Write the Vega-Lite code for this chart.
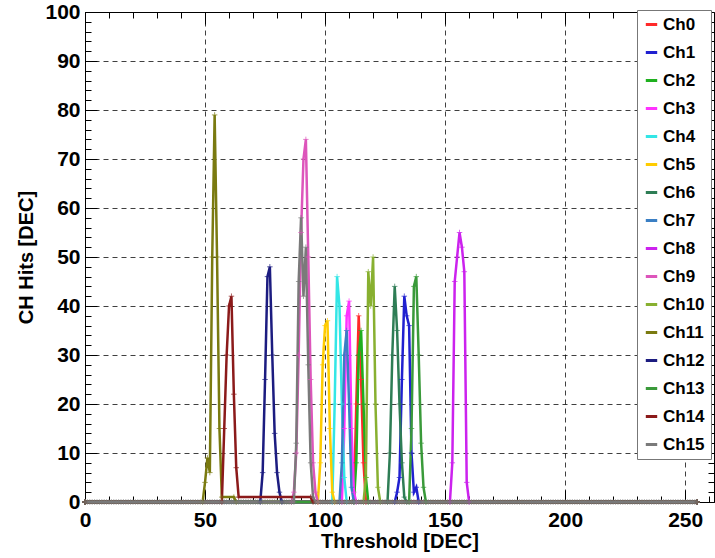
{
"$schema": "https://vega.github.io/schema/vega-lite/v6.json",
"width": 629, "height": 490,
"autosize": {"type": "none"},
"padding": {"left": 85, "top": 12, "right": 1, "bottom": 56},
"background": "white",
"config": {
  "view": {"stroke": "#000", "strokeWidth": 1},
  "font": "Liberation Sans",
  "axis": {"labelFont": "Liberation Sans", "labelFontWeight": "bold", "labelFontSize": 21, "labelColor": "#000",
           "titleFont": "Liberation Sans", "titleFontWeight": "bold", "titleFontSize": 20, "titleColor": "#000",
           "domainColor": "#000", "tickColor": "#000", "gridColor": "#000", "gridDash": [5, 4], "gridOpacity": 0.75}
},
"datasets": {"d": [
{"c":"Ch0","t":0,"h":0},{"c":"Ch0","t":112,"h":0},{"c":"Ch0","t":113,"h":20},{"c":"Ch0","t":114,"h":38},{"c":"Ch0","t":115,"h":25},{"c":"Ch0","t":116,"h":8},{"c":"Ch0","t":117,"h":0},{"c":"Ch0","t":255,"h":0},
{"c":"Ch1","t":0,"h":0},{"c":"Ch1","t":129,"h":0},{"c":"Ch1","t":130,"h":2},{"c":"Ch1","t":131,"h":5},{"c":"Ch1","t":132,"h":25},{"c":"Ch1","t":133,"h":42},{"c":"Ch1","t":134,"h":38},{"c":"Ch1","t":135,"h":36},{"c":"Ch1","t":136,"h":10},{"c":"Ch1","t":137,"h":2},{"c":"Ch1","t":138,"h":3},{"c":"Ch1","t":139,"h":0},{"c":"Ch1","t":255,"h":0},
{"c":"Ch2","t":0,"h":0},{"c":"Ch2","t":112,"h":0},{"c":"Ch2","t":113,"h":8},{"c":"Ch2","t":114,"h":30},{"c":"Ch2","t":115,"h":35},{"c":"Ch2","t":116,"h":20},{"c":"Ch2","t":117,"h":5},{"c":"Ch2","t":118,"h":0},{"c":"Ch2","t":255,"h":0},
{"c":"Ch3","t":0,"h":0},{"c":"Ch3","t":107,"h":0},{"c":"Ch3","t":108,"h":15},{"c":"Ch3","t":109,"h":38},{"c":"Ch3","t":110,"h":41},{"c":"Ch3","t":111,"h":15},{"c":"Ch3","t":112,"h":2},{"c":"Ch3","t":113,"h":0},{"c":"Ch3","t":255,"h":0},
{"c":"Ch4","t":0,"h":0},{"c":"Ch4","t":103,"h":0},{"c":"Ch4","t":104,"h":20},{"c":"Ch4","t":105,"h":46},{"c":"Ch4","t":106,"h":40},{"c":"Ch4","t":107,"h":20},{"c":"Ch4","t":108,"h":5},{"c":"Ch4","t":109,"h":0},{"c":"Ch4","t":255,"h":0},
{"c":"Ch5","t":0,"h":0},{"c":"Ch5","t":97,"h":0},{"c":"Ch5","t":98,"h":8},{"c":"Ch5","t":99,"h":28},{"c":"Ch5","t":100,"h":36},{"c":"Ch5","t":101,"h":37},{"c":"Ch5","t":102,"h":15},{"c":"Ch5","t":103,"h":2},{"c":"Ch5","t":104,"h":0},{"c":"Ch5","t":255,"h":0},
{"c":"Ch6","t":0,"h":0},{"c":"Ch6","t":126,"h":0},{"c":"Ch6","t":127,"h":10},{"c":"Ch6","t":128,"h":30},{"c":"Ch6","t":129,"h":44},{"c":"Ch6","t":130,"h":35},{"c":"Ch6","t":131,"h":20},{"c":"Ch6","t":132,"h":8},{"c":"Ch6","t":133,"h":1},{"c":"Ch6","t":134,"h":0},{"c":"Ch6","t":255,"h":0},
{"c":"Ch7","t":0,"h":0},{"c":"Ch7","t":106,"h":0},{"c":"Ch7","t":107,"h":8},{"c":"Ch7","t":108,"h":30},{"c":"Ch7","t":109,"h":35},{"c":"Ch7","t":110,"h":20},{"c":"Ch7","t":111,"h":3},{"c":"Ch7","t":112,"h":0},{"c":"Ch7","t":255,"h":0},
{"c":"Ch8","t":0,"h":0},{"c":"Ch8","t":152,"h":0},{"c":"Ch8","t":153,"h":8},{"c":"Ch8","t":154,"h":45},{"c":"Ch8","t":155,"h":50},{"c":"Ch8","t":156,"h":55},{"c":"Ch8","t":157,"h":52},{"c":"Ch8","t":158,"h":47},{"c":"Ch8","t":159,"h":4},{"c":"Ch8","t":160,"h":0},{"c":"Ch8","t":255,"h":0},
{"c":"Ch9","t":0,"h":0},{"c":"Ch9","t":86,"h":0},{"c":"Ch9","t":87,"h":2},{"c":"Ch9","t":88,"h":10},{"c":"Ch9","t":89,"h":30},{"c":"Ch9","t":90,"h":55},{"c":"Ch9","t":91,"h":70},{"c":"Ch9","t":92,"h":74},{"c":"Ch9","t":93,"h":50},{"c":"Ch9","t":94,"h":25},{"c":"Ch9","t":95,"h":8},{"c":"Ch9","t":96,"h":2},{"c":"Ch9","t":97,"h":0},{"c":"Ch9","t":255,"h":0},
{"c":"Ch10","t":0,"h":0},{"c":"Ch10","t":116,"h":0},{"c":"Ch10","t":117,"h":5},{"c":"Ch10","t":118,"h":47},{"c":"Ch10","t":119,"h":40},{"c":"Ch10","t":120,"h":50},{"c":"Ch10","t":121,"h":20},{"c":"Ch10","t":122,"h":3},{"c":"Ch10","t":123,"h":0},{"c":"Ch10","t":255,"h":0},
{"c":"Ch11","t":0,"h":0},{"c":"Ch11","t":49,"h":0},{"c":"Ch11","t":50,"h":4},{"c":"Ch11","t":51,"h":9},{"c":"Ch11","t":52,"h":6},{"c":"Ch11","t":53,"h":50},{"c":"Ch11","t":54,"h":79},{"c":"Ch11","t":55,"h":50},{"c":"Ch11","t":56,"h":15},{"c":"Ch11","t":57,"h":1},{"c":"Ch11","t":62,"h":1},{"c":"Ch11","t":63,"h":0},{"c":"Ch11","t":255,"h":0},
{"c":"Ch12","t":0,"h":0},{"c":"Ch12","t":73,"h":0},{"c":"Ch12","t":74,"h":6},{"c":"Ch12","t":75,"h":25},{"c":"Ch12","t":76,"h":46},{"c":"Ch12","t":77,"h":48},{"c":"Ch12","t":78,"h":30},{"c":"Ch12","t":79,"h":14},{"c":"Ch12","t":80,"h":6},{"c":"Ch12","t":81,"h":2},{"c":"Ch12","t":82,"h":0},{"c":"Ch12","t":255,"h":0},
{"c":"Ch13","t":0,"h":0},{"c":"Ch13","t":135,"h":0},{"c":"Ch13","t":136,"h":15},{"c":"Ch13","t":137,"h":44},{"c":"Ch13","t":138,"h":46},{"c":"Ch13","t":139,"h":30},{"c":"Ch13","t":140,"h":12},{"c":"Ch13","t":141,"h":3},{"c":"Ch13","t":142,"h":0},{"c":"Ch13","t":255,"h":0},
{"c":"Ch14","t":0,"h":0},{"c":"Ch14","t":57,"h":0},{"c":"Ch14","t":58,"h":15},{"c":"Ch14","t":59,"h":30},{"c":"Ch14","t":60,"h":40},{"c":"Ch14","t":61,"h":42},{"c":"Ch14","t":62,"h":22},{"c":"Ch14","t":63,"h":7},{"c":"Ch14","t":64,"h":1},{"c":"Ch14","t":94,"h":1},{"c":"Ch14","t":95,"h":0},{"c":"Ch14","t":255,"h":0},
{"c":"Ch15","t":0,"h":0},{"c":"Ch15","t":1,"h":0},{"c":"Ch15","t":2,"h":0},{"c":"Ch15","t":3,"h":0},{"c":"Ch15","t":4,"h":0},{"c":"Ch15","t":5,"h":0},{"c":"Ch15","t":6,"h":0},{"c":"Ch15","t":7,"h":0},{"c":"Ch15","t":8,"h":0},{"c":"Ch15","t":9,"h":0},
{"c":"Ch15","t":10,"h":0},{"c":"Ch15","t":11,"h":0},{"c":"Ch15","t":12,"h":0},{"c":"Ch15","t":13,"h":0},{"c":"Ch15","t":14,"h":0},{"c":"Ch15","t":15,"h":0},{"c":"Ch15","t":16,"h":0},{"c":"Ch15","t":17,"h":0},{"c":"Ch15","t":18,"h":0},{"c":"Ch15","t":19,"h":0},
{"c":"Ch15","t":20,"h":0},{"c":"Ch15","t":21,"h":0},{"c":"Ch15","t":22,"h":0},{"c":"Ch15","t":23,"h":0},{"c":"Ch15","t":24,"h":0},{"c":"Ch15","t":25,"h":0},{"c":"Ch15","t":26,"h":0},{"c":"Ch15","t":27,"h":0},{"c":"Ch15","t":28,"h":0},{"c":"Ch15","t":29,"h":0},
{"c":"Ch15","t":30,"h":0},{"c":"Ch15","t":31,"h":0},{"c":"Ch15","t":32,"h":0},{"c":"Ch15","t":33,"h":0},{"c":"Ch15","t":34,"h":0},{"c":"Ch15","t":35,"h":0},{"c":"Ch15","t":36,"h":0},{"c":"Ch15","t":37,"h":0},{"c":"Ch15","t":38,"h":0},{"c":"Ch15","t":39,"h":0},
{"c":"Ch15","t":40,"h":0},{"c":"Ch15","t":41,"h":0},{"c":"Ch15","t":42,"h":0},{"c":"Ch15","t":43,"h":0},{"c":"Ch15","t":44,"h":0},{"c":"Ch15","t":45,"h":0},{"c":"Ch15","t":46,"h":0},{"c":"Ch15","t":47,"h":0},{"c":"Ch15","t":48,"h":0},{"c":"Ch15","t":49,"h":0},
{"c":"Ch15","t":50,"h":0},{"c":"Ch15","t":51,"h":0},{"c":"Ch15","t":52,"h":0},{"c":"Ch15","t":53,"h":0},{"c":"Ch15","t":54,"h":0},{"c":"Ch15","t":55,"h":0},{"c":"Ch15","t":56,"h":0},{"c":"Ch15","t":57,"h":0},{"c":"Ch15","t":58,"h":0},{"c":"Ch15","t":59,"h":0},
{"c":"Ch15","t":60,"h":0},{"c":"Ch15","t":61,"h":0},{"c":"Ch15","t":62,"h":0},{"c":"Ch15","t":63,"h":0},{"c":"Ch15","t":64,"h":0},{"c":"Ch15","t":65,"h":0},{"c":"Ch15","t":66,"h":0},{"c":"Ch15","t":67,"h":0},{"c":"Ch15","t":68,"h":0},{"c":"Ch15","t":69,"h":0},
{"c":"Ch15","t":70,"h":0},{"c":"Ch15","t":71,"h":0},{"c":"Ch15","t":72,"h":0},{"c":"Ch15","t":73,"h":0},{"c":"Ch15","t":74,"h":0},{"c":"Ch15","t":75,"h":0},{"c":"Ch15","t":76,"h":0},{"c":"Ch15","t":77,"h":0},{"c":"Ch15","t":78,"h":0},{"c":"Ch15","t":79,"h":0},
{"c":"Ch15","t":80,"h":0},{"c":"Ch15","t":81,"h":0},{"c":"Ch15","t":82,"h":0},{"c":"Ch15","t":83,"h":0},{"c":"Ch15","t":84,"h":0},{"c":"Ch15","t":85,"h":0},{"c":"Ch15","t":86,"h":0},{"c":"Ch15","t":87,"h":0},{"c":"Ch15","t":88,"h":12},{"c":"Ch15","t":89,"h":45},
{"c":"Ch15","t":90,"h":58},{"c":"Ch15","t":91,"h":42},{"c":"Ch15","t":92,"h":52},{"c":"Ch15","t":93,"h":28},{"c":"Ch15","t":94,"h":8},{"c":"Ch15","t":95,"h":1},{"c":"Ch15","t":96,"h":0},{"c":"Ch15","t":97,"h":0},{"c":"Ch15","t":98,"h":0},{"c":"Ch15","t":99,"h":0},
{"c":"Ch15","t":100,"h":0},{"c":"Ch15","t":101,"h":0},{"c":"Ch15","t":102,"h":0},{"c":"Ch15","t":103,"h":0},{"c":"Ch15","t":104,"h":0},{"c":"Ch15","t":105,"h":0},{"c":"Ch15","t":106,"h":0},{"c":"Ch15","t":107,"h":0},{"c":"Ch15","t":108,"h":0},{"c":"Ch15","t":109,"h":0},
{"c":"Ch15","t":110,"h":0},{"c":"Ch15","t":111,"h":0},{"c":"Ch15","t":112,"h":0},{"c":"Ch15","t":113,"h":0},{"c":"Ch15","t":114,"h":0},{"c":"Ch15","t":115,"h":0},{"c":"Ch15","t":116,"h":0},{"c":"Ch15","t":117,"h":0},{"c":"Ch15","t":118,"h":0},{"c":"Ch15","t":119,"h":0},
{"c":"Ch15","t":120,"h":0},{"c":"Ch15","t":121,"h":0},{"c":"Ch15","t":122,"h":0},{"c":"Ch15","t":123,"h":0},{"c":"Ch15","t":124,"h":0},{"c":"Ch15","t":125,"h":0},{"c":"Ch15","t":126,"h":0},{"c":"Ch15","t":127,"h":0},{"c":"Ch15","t":128,"h":0},{"c":"Ch15","t":129,"h":0},
{"c":"Ch15","t":130,"h":0},{"c":"Ch15","t":131,"h":0},{"c":"Ch15","t":132,"h":0},{"c":"Ch15","t":133,"h":0},{"c":"Ch15","t":134,"h":0},{"c":"Ch15","t":135,"h":0},{"c":"Ch15","t":136,"h":0},{"c":"Ch15","t":137,"h":0},{"c":"Ch15","t":138,"h":0},{"c":"Ch15","t":139,"h":0},
{"c":"Ch15","t":140,"h":0},{"c":"Ch15","t":141,"h":0},{"c":"Ch15","t":142,"h":0},{"c":"Ch15","t":143,"h":0},{"c":"Ch15","t":144,"h":0},{"c":"Ch15","t":145,"h":0},{"c":"Ch15","t":146,"h":0},{"c":"Ch15","t":147,"h":0},{"c":"Ch15","t":148,"h":0},{"c":"Ch15","t":149,"h":0},
{"c":"Ch15","t":150,"h":0},{"c":"Ch15","t":151,"h":0},{"c":"Ch15","t":152,"h":0},{"c":"Ch15","t":153,"h":0},{"c":"Ch15","t":154,"h":0},{"c":"Ch15","t":155,"h":0},{"c":"Ch15","t":156,"h":0},{"c":"Ch15","t":157,"h":0},{"c":"Ch15","t":158,"h":0},{"c":"Ch15","t":159,"h":0},
{"c":"Ch15","t":160,"h":0},{"c":"Ch15","t":161,"h":0},{"c":"Ch15","t":162,"h":0},{"c":"Ch15","t":163,"h":0},{"c":"Ch15","t":164,"h":0},{"c":"Ch15","t":165,"h":0},{"c":"Ch15","t":166,"h":0},{"c":"Ch15","t":167,"h":0},{"c":"Ch15","t":168,"h":0},{"c":"Ch15","t":169,"h":0},
{"c":"Ch15","t":170,"h":0},{"c":"Ch15","t":171,"h":0},{"c":"Ch15","t":172,"h":0},{"c":"Ch15","t":173,"h":0},{"c":"Ch15","t":174,"h":0},{"c":"Ch15","t":175,"h":0},{"c":"Ch15","t":176,"h":0},{"c":"Ch15","t":177,"h":0},{"c":"Ch15","t":178,"h":0},{"c":"Ch15","t":179,"h":0},
{"c":"Ch15","t":180,"h":0},{"c":"Ch15","t":181,"h":0},{"c":"Ch15","t":182,"h":0},{"c":"Ch15","t":183,"h":0},{"c":"Ch15","t":184,"h":0},{"c":"Ch15","t":185,"h":0},{"c":"Ch15","t":186,"h":0},{"c":"Ch15","t":187,"h":0},{"c":"Ch15","t":188,"h":0},{"c":"Ch15","t":189,"h":0},
{"c":"Ch15","t":190,"h":0},{"c":"Ch15","t":191,"h":0},{"c":"Ch15","t":192,"h":0},{"c":"Ch15","t":193,"h":0},{"c":"Ch15","t":194,"h":0},{"c":"Ch15","t":195,"h":0},{"c":"Ch15","t":196,"h":0},{"c":"Ch15","t":197,"h":0},{"c":"Ch15","t":198,"h":0},{"c":"Ch15","t":199,"h":0},
{"c":"Ch15","t":200,"h":0},{"c":"Ch15","t":201,"h":0},{"c":"Ch15","t":202,"h":0},{"c":"Ch15","t":203,"h":0},{"c":"Ch15","t":204,"h":0},{"c":"Ch15","t":205,"h":0},{"c":"Ch15","t":206,"h":0},{"c":"Ch15","t":207,"h":0},{"c":"Ch15","t":208,"h":0},{"c":"Ch15","t":209,"h":0},
{"c":"Ch15","t":210,"h":0},{"c":"Ch15","t":211,"h":0},{"c":"Ch15","t":212,"h":0},{"c":"Ch15","t":213,"h":0},{"c":"Ch15","t":214,"h":0},{"c":"Ch15","t":215,"h":0},{"c":"Ch15","t":216,"h":0},{"c":"Ch15","t":217,"h":0},{"c":"Ch15","t":218,"h":0},{"c":"Ch15","t":219,"h":0},
{"c":"Ch15","t":220,"h":0},{"c":"Ch15","t":221,"h":0},{"c":"Ch15","t":222,"h":0},{"c":"Ch15","t":223,"h":0},{"c":"Ch15","t":224,"h":0},{"c":"Ch15","t":225,"h":0},{"c":"Ch15","t":226,"h":0},{"c":"Ch15","t":227,"h":0},{"c":"Ch15","t":228,"h":0},{"c":"Ch15","t":229,"h":0},
{"c":"Ch15","t":230,"h":0},{"c":"Ch15","t":231,"h":0},{"c":"Ch15","t":232,"h":0},{"c":"Ch15","t":233,"h":0},{"c":"Ch15","t":234,"h":0},{"c":"Ch15","t":235,"h":0},{"c":"Ch15","t":236,"h":0},{"c":"Ch15","t":237,"h":0},{"c":"Ch15","t":238,"h":0},{"c":"Ch15","t":239,"h":0},
{"c":"Ch15","t":240,"h":0},{"c":"Ch15","t":241,"h":0},{"c":"Ch15","t":242,"h":0},{"c":"Ch15","t":243,"h":0},{"c":"Ch15","t":244,"h":0},{"c":"Ch15","t":245,"h":0},{"c":"Ch15","t":246,"h":0},{"c":"Ch15","t":247,"h":0},{"c":"Ch15","t":248,"h":0},{"c":"Ch15","t":249,"h":0},
{"c":"Ch15","t":250,"h":0},{"c":"Ch15","t":251,"h":0},{"c":"Ch15","t":252,"h":0},{"c":"Ch15","t":253,"h":0},{"c":"Ch15","t":254,"h":0},{"c":"Ch15","t":255,"h":0}
]},
"data": {"name": "d"},
"layer": [
  {
    "mark": {"type": "line", "strokeWidth": 2.5},
    "encoding": {
      "x": {"field": "t", "type": "quantitative", "scale": {"domain": [0, 262], "nice": false, "zero": false},
            "axis": {"orient": "bottom", "values": [0, 50, 100, 150, 200, 250], "title": "Threshold [DEC]", "grid": true, "labelFlush": false,
                     "tickSize": -12, "labelPadding": 19, "titlePadding": 1, "domain": true}},
      "y": {"field": "h", "type": "quantitative", "scale": {"domain": [0, 100], "nice": false},
            "axis": {"orient": "left", "values": [0, 10, 20, 30, 40, 50, 60, 70, 80, 90, 100], "title": "CH Hits [DEC]", "grid": true, "labelFlush": false,
                     "tickSize": -12, "labelPadding": 17, "titlePadding": 8, "domain": true}},
      "color": {"field": "c", "type": "nominal",
                "scale": {"domain": ["Ch0","Ch1","Ch2","Ch3","Ch4","Ch5","Ch6","Ch7","Ch8","Ch9","Ch10","Ch11","Ch12","Ch13","Ch14","Ch15"],
                          "range": ["#ff2a2a","#2020d0","#1fb01f","#ff33ff","#33e6e6","#ffcc00","#2e7d55","#3a7fc4","#cc22ee","#dd55bb","#88b030","#7a7a10","#1c1c80","#3a9a3a","#8b1a1a","#7a7a7a"]},
                "legend": {"orient": "none", "legendX": 552, "legendY": -2, "title": null, "fillColor": "#fff", "strokeColor": "#777",
                           "padding": 6, "labelFont": "Liberation Sans", "labelFontWeight": "bold", "labelFontSize": 17, "labelColor": "#000",
                           "symbolType": "stroke", "symbolSize": 130, "symbolStrokeWidth": 3, "rowPadding": 10, "labelOffset": 3}}
    }
  },
  {
    "mark": {"type": "point", "shape": "M-1,0L1,0M0,-1L0,1", "size": 30, "filled": false, "strokeWidth": 1},
    "encoding": {
      "x": {"field": "t", "type": "quantitative", "scale": {"domain": [0, 262], "nice": false, "zero": false},
            "axis": {"orient": "bottom", "values": [0,10,20,30,40,60,70,80,90,110,120,130,140,160,170,180,190,210,220,230,240,260], "title": null, "labels": false, "grid": false, "domain": false, "tickSize": -6}},
      "y": {"field": "h", "type": "quantitative", "scale": {"domain": [0, 100], "nice": false},
            "axis": {"orient": "left", "values": [2,4,6,8,12,14,16,18,22,24,26,28,32,34,36,38,42,44,46,48,52,54,56,58,62,64,66,68,72,74,76,78,82,84,86,88,92,94,96,98], "title": null, "labels": false, "grid": false, "domain": false, "tickSize": -6}},
      "stroke": {"field": "c", "type": "nominal",
                "scale": {"domain": ["Ch0","Ch1","Ch2","Ch3","Ch4","Ch5","Ch6","Ch7","Ch8","Ch9","Ch10","Ch11","Ch12","Ch13","Ch14","Ch15"],
                          "range": ["#ff2a2a","#2020d0","#1fb01f","#ff33ff","#33e6e6","#ffcc00","#2e7d55","#3a7fc4","#cc22ee","#dd55bb","#88b030","#7a7a10","#1c1c80","#3a9a3a","#8b1a1a","#7a7a7a"]},
                "legend": null}
    }
  },
  {
    "mark": {"type": "point", "opacity": 0},
    "encoding": {
      "x": {"field": "t", "type": "quantitative", "scale": {"domain": [0, 262], "nice": false, "zero": false},
            "axis": {"orient": "top", "values": [0, 50, 100, 150, 200, 250], "title": null, "labels": false, "grid": false, "domain": false, "tickSize": -12}},
      "y": {"field": "h", "type": "quantitative", "scale": {"domain": [0, 100], "nice": false},
            "axis": {"orient": "right", "values": [0, 10, 20, 30, 40, 50, 60, 70, 80, 90, 100], "title": null, "labels": false, "grid": false, "domain": false, "tickSize": -12}}
    }
  },
  {
    "mark": {"type": "point", "opacity": 0},
    "encoding": {
      "x": {"field": "t", "type": "quantitative", "scale": {"domain": [0, 262], "nice": false, "zero": false},
            "axis": {"orient": "top", "values": [0,10,20,30,40,60,70,80,90,110,120,130,140,160,170,180,190,210,220,230,240,260], "title": null, "labels": false, "grid": false, "domain": false, "tickSize": -6}},
      "y": {"field": "h", "type": "quantitative", "scale": {"domain": [0, 100], "nice": false},
            "axis": {"orient": "right", "values": [2,4,6,8,12,14,16,18,22,24,26,28,32,34,36,38,42,44,46,48,52,54,56,58,62,64,66,68,72,74,76,78,82,84,86,88,92,94,96,98], "title": null, "labels": false, "grid": false, "domain": false, "tickSize": -6}}
    }
  }
],
"resolve": {"axis": {"x": "independent", "y": "independent"}}
}
